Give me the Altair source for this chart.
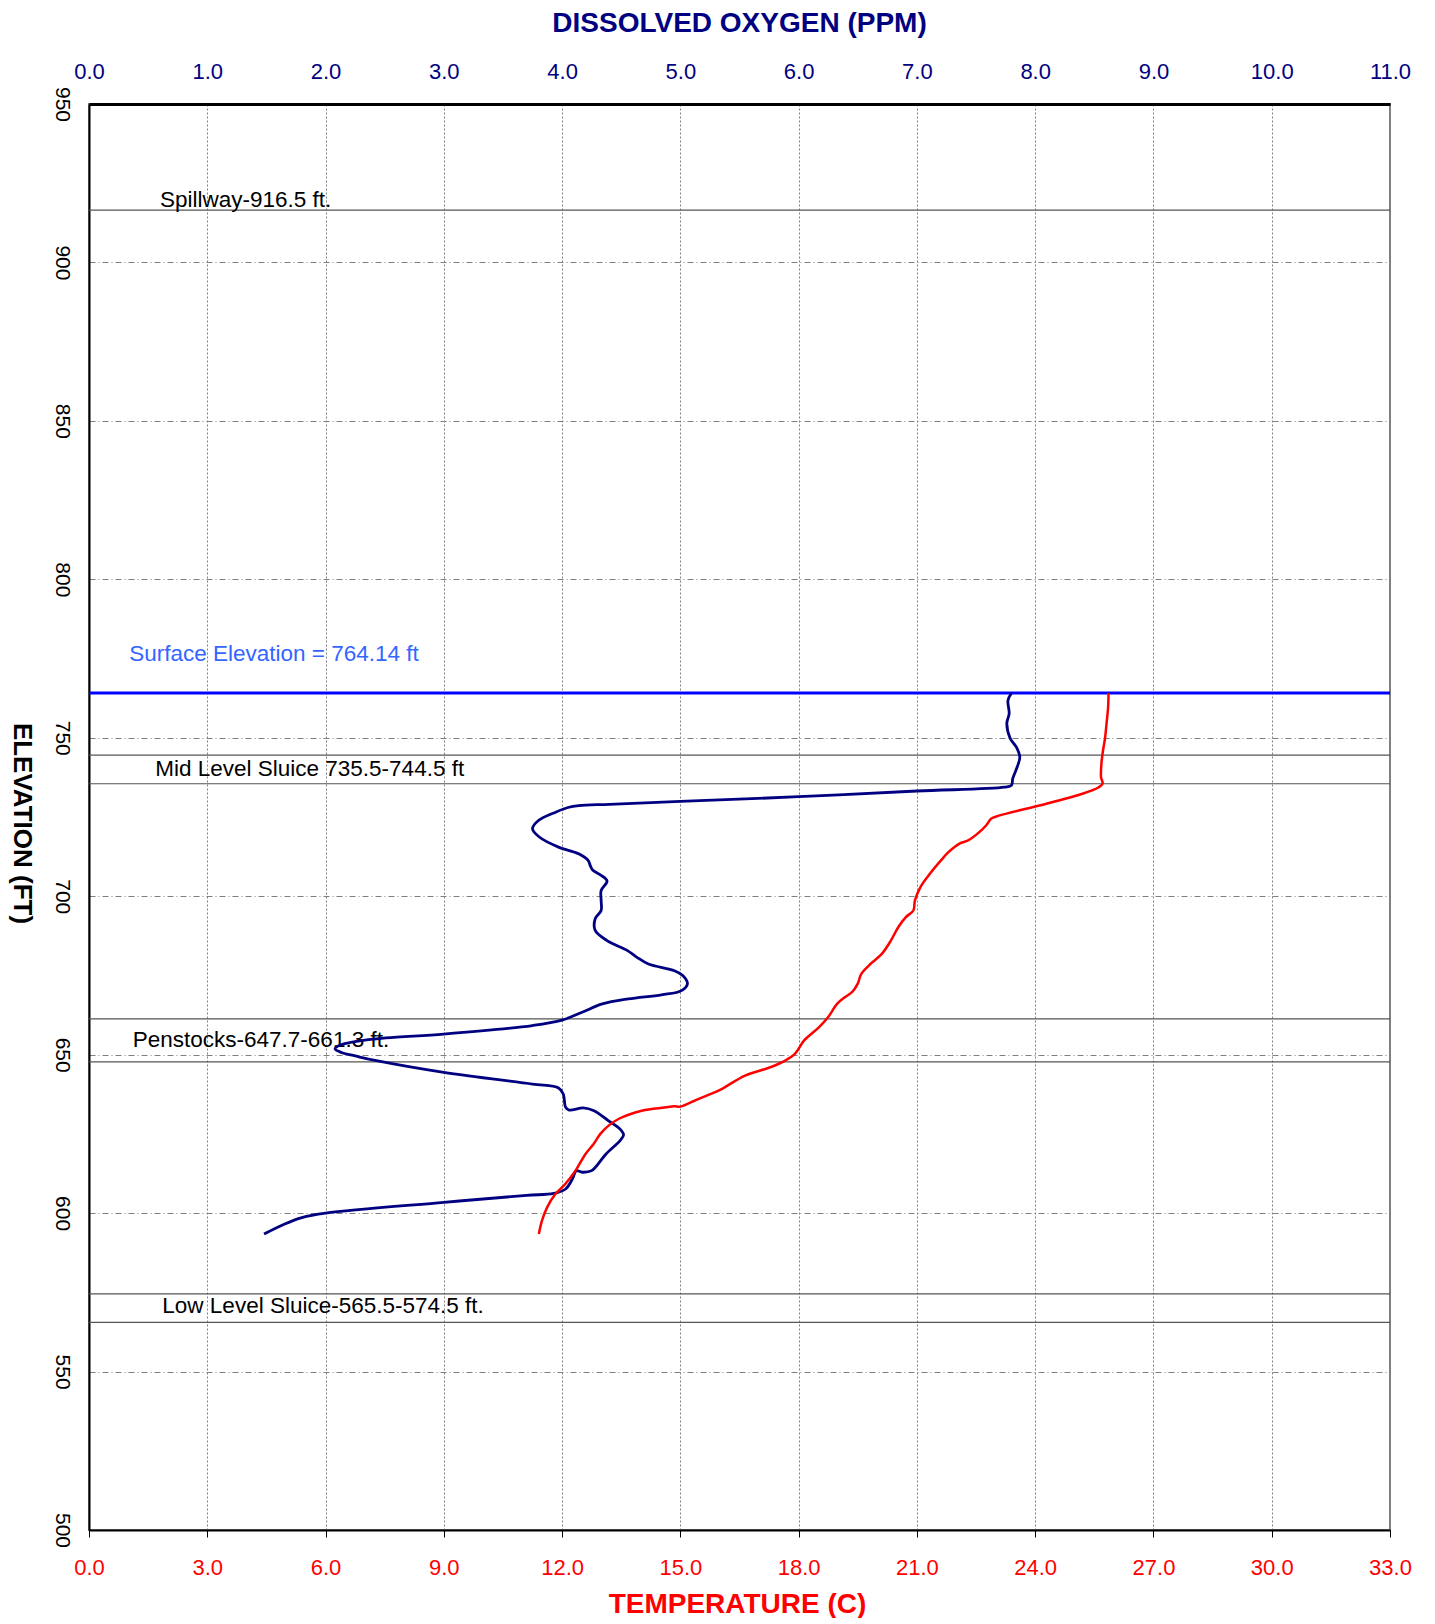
import altair as alt
import pandas as pd

# ---------------- data ----------------
# Dissolved oxygen profile (ppm) vs elevation (ft)
do_elev = [764.14, 761.8, 757.6, 754.5, 749.7, 747.1, 743.9, 741.0, 737.1, 735.0, 734.4,
           733.2, 731.4, 729.9, 729.0, 728.6,
           728.0, 726.6, 723.9, 721.3, 718.6, 715.5, 713.4, 711.3, 709.5, 708.2,
           706.6, 704.8, 701.8, 698.7, 695.5, 692.9, 689.2, 686.0, 682.9, 680.8,
           678.6, 676.5, 675.0, 672.4, 670.2, 668.9, 667.6, 666.0, 663.4,
           660.9, 659.2, 656.5, 655.3, 654.2, 653.0, 651.8, 650.6, 649.6, 648.1,
           644.4, 640.7, 639.5, 637.6, 633.4, 632.5, 633.2, 632.3, 629.2, 626.5,
           624.7, 622.9, 618.6, 613.4, 612.9, 613.4, 611.0, 607.6, 606.2, 605.6,
           603.4, 600.0, 598.6, 596.5, 593.4]
do_ppm = [7.80, 7.77, 7.78, 7.76, 7.79, 7.84, 7.87, 7.85, 7.81, 7.80, 7.74,
          7.00, 6.00, 5.00, 4.40, 4.14,
          4.05, 3.95, 3.80, 3.75, 3.81, 3.97, 4.14, 4.22, 4.24, 4.26,
          4.33, 4.38, 4.33, 4.33, 4.33, 4.28, 4.28, 4.38, 4.55, 4.63,
          4.73, 4.95, 5.02, 5.06, 5.01, 4.84, 4.56, 4.34, 4.17,
          4.00, 3.75, 3.00, 2.51, 2.26, 2.12, 2.08, 2.14, 2.25, 2.43,
          3.00, 3.75, 3.97, 4.01, 4.03, 4.06, 4.18, 4.27, 4.39, 4.49,
          4.52, 4.49, 4.37, 4.25, 4.17, 4.12, 4.09, 4.03, 3.93, 3.70,
          3.00, 2.00, 1.80, 1.65, 1.48]

# Temperature profile (C) vs elevation (ft)
t_elev = [764.14, 759.7, 754.5, 749.7, 746.0, 741.8, 737.6, 735.5, 734.3, 732.4,
          728.4, 725.5, 724.5, 722.4, 720.3, 717.6, 716.6, 713.9, 711.3, 707.1,
          702.9, 698.7, 695.5, 693.4, 690.3, 686.0, 681.8, 678.7, 675.5, 672.4,
          669.8, 668.1, 666.1, 661.9, 658.7, 654.5, 650.3, 648.2, 646.1, 643.4,
          638.7, 636.0, 633.6, 633.7, 633.3, 632.3, 629.7, 627.6, 625.0, 621.8,
          618.6, 613.4, 609.2, 606.0, 601.8, 597.6, 593.4]
t_c = [25.86, 25.85, 25.81, 25.77, 25.72, 25.68, 25.67, 25.71, 25.60, 25.22,
       24.03, 23.10, 22.89, 22.76, 22.59, 22.30, 22.08, 21.80, 21.61, 21.33,
       21.09, 20.95, 20.91, 20.72, 20.53, 20.34, 20.11, 19.83, 19.59, 19.50,
       19.36, 19.17, 18.98, 18.75, 18.52, 18.14, 17.91, 17.67, 17.30, 16.64,
       15.98, 15.45, 15.00, 14.85, 14.60, 14.02, 13.43, 13.18, 12.97, 12.80,
       12.59, 12.34, 12.08, 11.83, 11.62, 11.49, 11.41]

# structure elevations
ref_elev = [916.5, 744.5, 735.5, 661.3, 647.7, 574.5, 565.5]
surface_elev = [764.14]

# annotations
ann_text = ["Spillway-916.5 ft.", "Surface Elevation = 764.14 ft",
            "Mid Level Sluice 735.5-744.5 ft", "Penstocks-647.7-661.3 ft.",
            "Low Level Sluice-565.5-574.5 ft."]
ann_do = [0.60, 0.34, 0.56, 0.37, 0.62]
ann_elev = [917.6, 774.3, 738.0, 652.5, 568.5]
ann_color = ["#000000", "#3366FF", "#000000", "#000000", "#000000"]

do_ticks = [0, 1, 2, 3, 4, 5, 6, 7, 8, 9, 10, 11]
t_ticks = [0, 3, 6, 9, 12, 15, 18, 21, 24, 27, 30, 33]
elev_ticks = [500, 550, 600, 650, 700, 750, 800, 850, 900, 950]

# ---------------- frames ----------------
do_df = pd.DataFrame({"elev": do_elev, "do": do_ppm, "i": range(len(do_elev))})
t_df = pd.DataFrame({"elev": t_elev, "temp": t_c, "i": range(len(t_elev))})
ref_df = pd.DataFrame({"elev": ref_elev})
surf_df = pd.DataFrame({"elev": surface_elev})
ann_df = pd.DataFrame({"do": ann_do, "elev": ann_elev, "label": ann_text, "c": ann_color})

FONT = "Liberation Sans"
W, H = 1301, 1426

yscale = alt.Scale(domain=[500, 950], nice=False, zero=False)
yaxis = alt.Axis(values=elev_ticks, format="d", labelAngle=90, labelAlign="center",
                 labelBaseline="middle", labelPadding=28, labelFontSize=21,
                 labelFont=FONT, labelColor="black", ticks=False, grid=True,
                 gridColor="#808080", gridDash=[6, 3, 1, 3], gridWidth=1,
                 domainColor="black", domainWidth=2,
                 title="ELEVATION (FT)", titleAngle=90, titleX=-68, titleY=719,
                 titleBaseline="middle", titleAlign="center", titleFontSize=26,
                 titleFont=FONT, titleFontWeight="bold", titleColor="black")

doscale = alt.Scale(domain=[0, 11], nice=False, zero=False)
doaxis = alt.Axis(orient="top", values=do_ticks, format=".1f", labelColor="#000080",
                  labelFontSize=22, labelFont=FONT, labelPadding=33,
                  labelBaseline="middle", labelFlush=False, labelOverlap=False,
                  ticks=False, grid=True, gridColor="#808080", gridDash=[2, 2],
                  gridWidth=1, domainColor="black", domainWidth=3,
                  title="DISSOLVED OXYGEN (PPM)", titleColor="#000080",
                  titleFontSize=28, titleFont=FONT, titleFontWeight="bold",
                  titleX=650, titleY=-81, titleBaseline="middle", titleAlign="center")

tscale = alt.Scale(domain=[0, 33], nice=False, zero=False)
taxis = alt.Axis(orient="bottom", values=t_ticks, format=".1f", labelColor="#FF0000",
                 labelFontSize=22, labelFont=FONT, labelPadding=30,
                 labelBaseline="middle", labelFlush=False, labelOverlap=False,
                 ticks=True, tickSize=7, tickColor="black", tickWidth=1,
                 grid=False, domainColor="black", domainWidth=2,
                 title="TEMPERATURE (C)", titleColor="#FF0000", titleFontSize=28,
                 titleFont=FONT, titleFontWeight="bold", titleX=648, titleY=74,
                 titleBaseline="middle", titleAlign="center")

rules = alt.Chart(ref_df).mark_rule(color="#555555", strokeWidth=1.2).encode(
    y=alt.Y("elev:Q", scale=yscale, axis=yaxis))
surface = alt.Chart(surf_df).mark_rule(color="#0000FF", strokeWidth=3).encode(
    y=alt.Y("elev:Q", scale=yscale, axis=yaxis))
do_line = alt.Chart(do_df).mark_line(color="#000080", strokeWidth=2.8,
                                     interpolate="catmull-rom").encode(
    x=alt.X("do:Q", scale=doscale, axis=doaxis),
    y=alt.Y("elev:Q", scale=yscale, axis=yaxis),
    order=alt.Order("i:Q"))
texts = alt.Chart(ann_df).mark_text(align="left", baseline="alphabetic",
                                    fontSize=22.5, font=FONT).encode(
    x=alt.X("do:Q", scale=doscale, axis=doaxis),
    y=alt.Y("elev:Q", scale=yscale, axis=yaxis),
    text="label:N",
    color=alt.Color("c:N", scale=None))

do_group = alt.layer(rules, surface, texts, do_line)

t_line = alt.Chart(t_df).mark_line(color="#FF0000", strokeWidth=2.5,
                                   interpolate="catmull-rom").encode(
    x=alt.X("temp:Q", scale=tscale, axis=taxis),
    y=alt.Y("elev:Q", scale=yscale, axis=yaxis),
    order=alt.Order("i:Q"))

chart = alt.layer(do_group, t_line).resolve_scale(x="independent").properties(
    width=W, height=H,
    autosize=alt.AutoSizeParams(type="none"),
    padding={"left": 81, "top": 96, "right": 30, "bottom": 88},
).configure_view(stroke="#808080", strokeWidth=2)

chart.save("out.html", embed_options={"renderer": "svg", "actions": False})
